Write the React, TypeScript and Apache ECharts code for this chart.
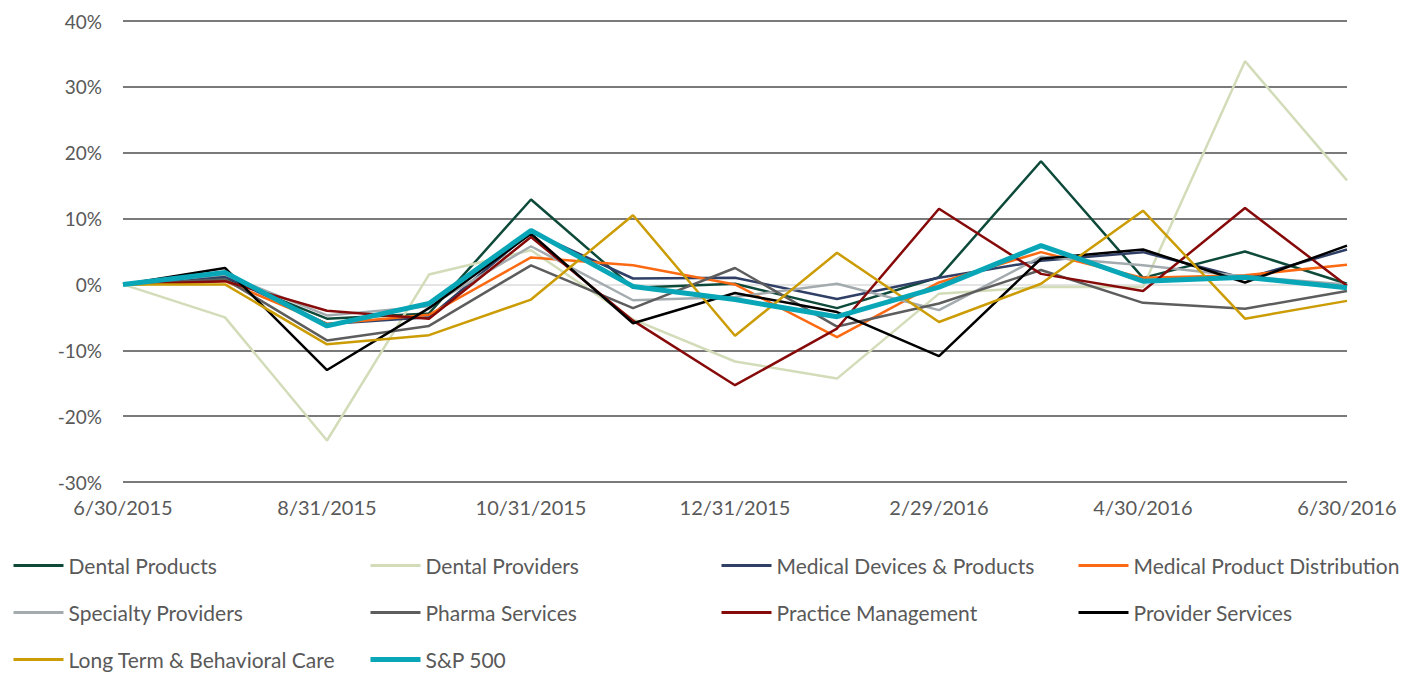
import React, { useEffect, useRef } from "react";
import * as echarts from "echarts";

const categories = [
  "6/30/2015", "7/31/2015", "8/31/2015", "9/30/2015", "10/31/2015", "11/30/2015",
  "12/31/2015", "1/31/2016", "2/29/2016", "3/31/2016", "4/30/2016", "5/31/2016", "6/30/2016",
];

const dentalProducts = [0, 1.0, -5.2, -4.4, 12.9, -0.5, 0.1, -3.6, 1.1, 18.7, 1.0, 5.0, 0.1];
const dentalProviders = [0, -5.0, -23.7, 1.5, 5.2, -5.3, -11.7, -14.3, -1.4, -0.4, -0.4, 33.9, 15.8];
const medicalDevices = [0, 1.2, -6.0, -5.0, 8.0, 0.9, 1.0, -2.2, 1.0, 3.6, 4.9, 0.9, 5.3];
const medicalDistribution = [0, 0.5, -6.0, -4.6, 4.1, 2.9, 0.0, -8.0, 0.3, 4.9, 1.0, 1.4, 3.0];
const specialtyProviders = [0, 1.5, -4.7, -3.3, 5.8, -2.4, -1.9, 0.1, -3.9, 4.2, 2.9, 1.2, 0.0];
const pharmaServices = [0, 0.8, -8.5, -6.3, 2.9, -3.6, 2.5, -6.4, -2.9, 2.2, -2.8, -3.7, -1.0];
const practiceManagement = [0, 0.5, -4.0, -5.2, 7.2, -5.5, -15.3, -6.7, 11.5, 1.6, -1.0, 11.6, -0.2];
const providerServices = [0, 2.5, -13.0, -3.6, 7.7, -5.9, -1.3, -4.2, -10.9, 3.9, 5.3, 0.3, 5.9];
const longTermCare = [0, 0.0, -9.1, -7.7, -2.3, 10.5, -7.8, 4.8, -5.7, 0.1, 11.2, -5.2, -2.5];
const sp500 = [0, 1.8, -6.3, -2.9, 8.2, -0.3, -2.3, -4.9, -0.4, 5.9, 0.5, 1.1, -0.5];

const yTicks = { min: -30, max: 40, interval: 10 };

const seriesDefs = [
  { name: "Dental Products", data: dentalProducts, color: "#0d4a3a", width: 2.5 },
  { name: "Dental Providers", data: dentalProviders, color: "#d2dcb8", width: 2.5 },
  { name: "Medical Devices & Products", data: medicalDevices, color: "#2f3f66", width: 2.5 },
  { name: "Medical Product Distribution", data: medicalDistribution, color: "#fb6a12", width: 2.5 },
  { name: "Specialty Providers", data: specialtyProviders, color: "#a4abae", width: 2.5 },
  { name: "Pharma Services", data: pharmaServices, color: "#5d5d5d", width: 2.5 },
  { name: "Practice Management", data: practiceManagement, color: "#870a0a", width: 2.5 },
  { name: "Provider Services", data: providerServices, color: "#000000", width: 2.5 },
  { name: "Long Term & Behavioral Care", data: longTermCare, color: "#cc9c05", width: 2.5 },
  { name: "S&P 500", data: sp500, color: "#08a6b6", width: 5 },
];

const legendColumns = [
  { left: 12, names: ["Dental Products", "Specialty Providers", "Long Term & Behavioral Care"] },
  { left: 368, names: ["Dental Providers", "Pharma Services", "S&P 500"] },
  { left: 720, names: ["Medical Devices & Products", "Practice Management"] },
  { left: 1077, names: ["Medical Product Distribution", "Provider Services"] },
];

const FONT = "Lato";
const TEXT_COLOR = "#595959";

export default function App() {
  const ref = useRef<HTMLDivElement>(null);
  useEffect(() => {
    if (!ref.current) return;
    const chart = echarts.init(ref.current, undefined, { renderer: "svg" });
    const gridColors = ["#7a7a7a", "#7a7a7a", "#7a7a7a", "#e4e4e4", "#7a7a7a", "#7a7a7a", "#7a7a7a", "#7a7a7a"];
    const widthOf = (name: string) => (name === "S&P 500" ? 5 : 3);
    chart.setOption({
      animation: false,
      backgroundColor: "#ffffff",
      textStyle: { fontFamily: FONT },
      grid: { left: 123, right: 61, top: 21, bottom: 191, containLabel: false },
      xAxis: {
        type: "category",
        data: categories,
        boundaryGap: false,
        axisLine: { show: false },
        axisTick: { show: false },
        axisLabel: { interval: 1, color: TEXT_COLOR, fontSize: 20, fontFamily: FONT, margin: 15 },
        splitLine: { show: false },
      },
      yAxis: {
        type: "value",
        min: yTicks.min,
        max: yTicks.max,
        interval: yTicks.interval,
        axisLine: { show: false },
        axisTick: { show: false },
        axisLabel: { formatter: "{value}%", color: TEXT_COLOR, fontSize: 19, fontFamily: FONT, margin: 21 },
        splitLine: { show: true, lineStyle: { color: gridColors, width: 2 } },
      },
      legend: legendColumns.map((col) => ({
        orient: "vertical",
        left: col.left,
        top: 555,
        height: 118,
        padding: 0,
        itemWidth: 50,
        itemHeight: 20,
        itemGap: 26,
        data: col.names.map((n) => ({ name: n, lineStyle: { width: widthOf(n) } })),
        itemStyle: { opacity: 0 },
        textStyle: { color: TEXT_COLOR, fontSize: 21, fontFamily: FONT },
      })),
      series: seriesDefs.map((s) => ({
        name: s.name,
        type: "line",
        data: s.data,
        symbol: "none",
        color: s.color,
        lineStyle: { color: s.color, width: s.width },
        emphasis: { disabled: true },
      })),
    });
    return () => chart.dispose();
  }, []);
  return <div ref={ref} style={{ width: 1408, height: 673, position: "absolute", left: 0, top: 0 }} />;
}
